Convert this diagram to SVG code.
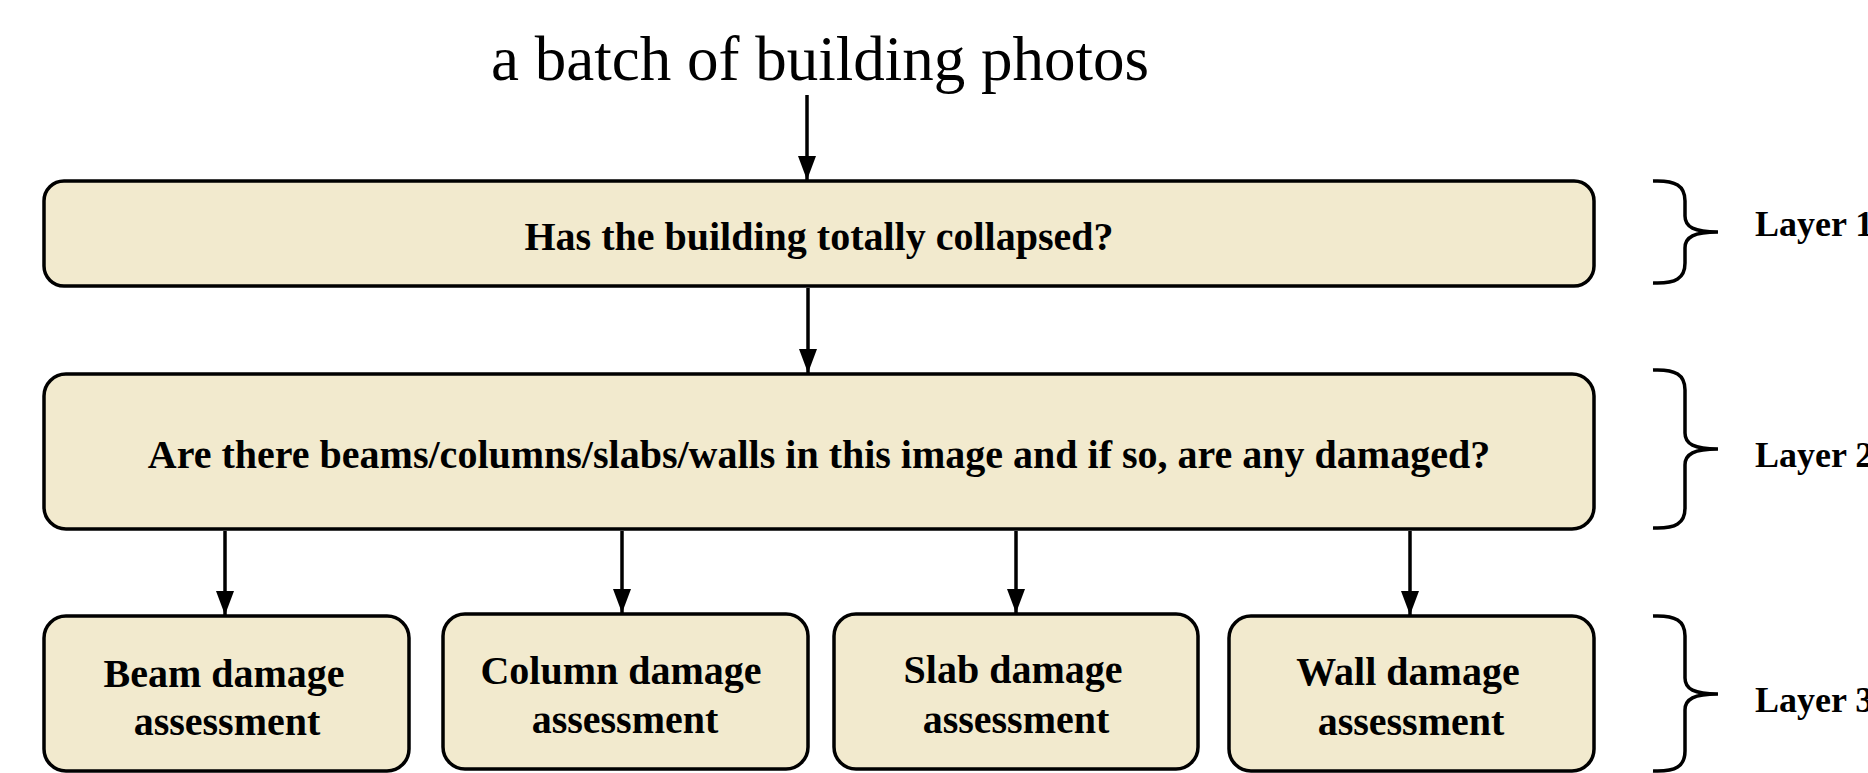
<svg xmlns="http://www.w3.org/2000/svg" width="1868" height="773" viewBox="0 0 1868 773">
<style>
.box{fill:#F2EACE;stroke:#000;stroke-width:3.5}
.t{font-family:"Liberation Serif","Times New Roman",serif;font-weight:bold;font-size:40px;fill:#000;text-anchor:middle}
.title{font-family:"Liberation Serif","Times New Roman",serif;font-size:63px;fill:#000;text-anchor:middle}
.lay{font-family:"Liberation Serif","Times New Roman",serif;font-weight:bold;font-size:36px;fill:#000}
.c{stroke:#000;stroke-width:3.5;fill:none;marker-end:url(#ah)}
.br{stroke:#000;stroke-width:3.5;fill:none}
</style>
<defs>
<marker id="ah" markerUnits="userSpaceOnUse" markerWidth="26" markerHeight="18" refX="24" refY="9" orient="auto">
<path d="M0,0 L24,9 L0,18 Z" fill="#000" transform="translate(0,0)"/>
</marker>
</defs>
<rect width="1868" height="773" fill="#fff"/>
<text class="title" x="820" y="80">a batch of building photos</text>
<g id="connectors">
<line class="c" x1="807" y1="95" x2="807" y2="180"/>
<line class="c" x1="808" y1="288" x2="808" y2="373"/>
<line class="c" x1="225" y1="531" x2="225" y2="615"/>
<line class="c" x1="622" y1="531" x2="622" y2="613"/>
<line class="c" x1="1016" y1="531" x2="1016" y2="613"/>
<line class="c" x1="1410" y1="531" x2="1410" y2="615"/>
</g>
<g id="layer1">
<rect class="box" x="44" y="181" width="1550" height="105" rx="20"/>
<text class="t" x="819" y="250">Has the building totally collapsed?</text>
</g>
<g id="layer2">
<rect class="box" x="44" y="374" width="1550" height="155" rx="22"/>
<text class="t" x="819" y="468">Are there beams/columns/slabs/walls in this image and if so, are any damaged?</text>
</g>
<g id="beam">
<rect class="box" x="44" y="616" width="365" height="155" rx="22"/>
<text class="t" x="224" y="687">Beam damage</text>
<text class="t" x="227" y="735">assessment</text>
</g>
<g id="column">
<rect class="box" x="443" y="614" width="365" height="155" rx="22"/>
<text class="t" x="621" y="684">Column damage</text>
<text class="t" x="625" y="733">assessment</text>
</g>
<g id="slab">
<rect class="box" x="834" y="614" width="364" height="155" rx="22"/>
<text class="t" x="1013" y="683">Slab damage</text>
<text class="t" x="1016" y="733">assessment</text>
</g>
<g id="wall">
<rect class="box" x="1229" y="616" width="365" height="155" rx="22"/>
<text class="t" x="1408" y="685">Wall damage</text>
<text class="t" x="1411" y="735">assessment</text>
</g>
<g id="braces">
<path class="br" d="M1653,181 C1676,180 1685,186 1685,201 L1685,216 C1685,227 1694,232 1718,232 C1694,232 1685,237 1685,248 L1685,263 C1685,278 1676,284 1653,283"/>
<path class="br" d="M1653,370 C1676,369 1685,375 1685,390 L1685,433 C1685,444 1694,449 1718,449 C1694,449 1685,454 1685,465 L1685,508 C1685,523 1676,529 1653,528"/>
<path class="br" d="M1653,616 C1676,615 1685,621 1685,636 L1685,678 C1685,689 1694,694 1718,694 C1694,694 1685,699 1685,710 L1685,751 C1685,766 1676,772 1653,771"/>
<text class="lay" x="1755" y="236">Layer 1</text>
<text class="lay" x="1755" y="467">Layer 2</text>
<text class="lay" x="1755" y="712">Layer 3</text>
</g>
</svg>
